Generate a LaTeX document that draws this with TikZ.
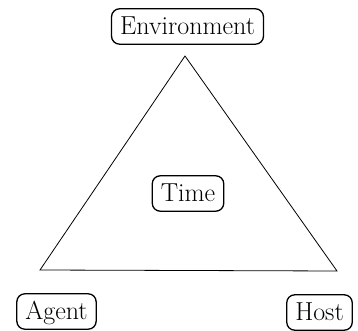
\documentclass[tikz,border=0pt]{standalone}
\usepackage{fontspec}
\begin{document}
\begin{tikzpicture}[x=1pt,y=1pt,
  lbl/.style={draw, rounded corners=8pt, line width=1.3pt, inner xsep=8.5pt, inner ysep=8.2pt,
    text height=18pt, text depth=1pt, font=\fontsize{26}{30}\selectfont},
  edge/.style={line width=0.8pt}]
\useasboundingbox (0,0) rectangle (358,331);
\node[lbl] (env) at (187.5,304.5) {Environment};
\node[lbl] (time) at (188,137.5) {Time};
\node[lbl] (agent) at (56.5,19.5) {Agent};
\node[lbl] (host) at (319.5,18.5) {Host};
\coordinate (top) at (185,275);
\coordinate (bl) at (40,61);
\coordinate (br) at (337,60);
\draw[edge] (top) -- (bl) -- (br) -- cycle;
\end{tikzpicture}
\end{document}
